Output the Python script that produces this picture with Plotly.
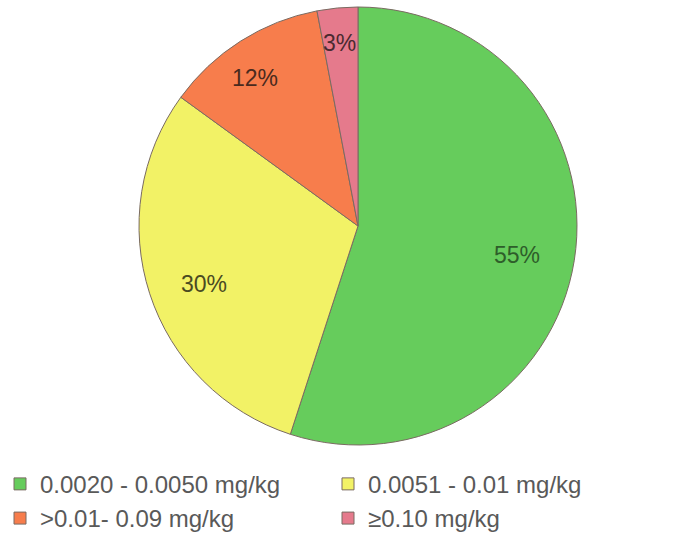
import math
import plotly.graph_objects as go

categories = ["0.0020 - 0.0050 mg/kg", "0.0051 - 0.01 mg/kg", ">0.01- 0.09 mg/kg", "≥0.10 mg/kg"]
values = [55, 30, 12, 3]
colors = ["#66cc5c", "#f2f266", "#f77d4c", "#e57a8c"]
label_colors = ["#2e5e2a", "#4a4a22", "#4a2a1e", "#4a2a30"]

W, H = 688, 542
cx, cy, r = 358, 226, 219

dom_x = [(cx - r) / W, (cx + r) / W]
dom_y = [1 - (cy + r) / H, 1 - (cy - r) / H]

fig = go.Figure(go.Pie(
    labels=categories,
    values=values,
    sort=False,
    direction="clockwise",
    rotation=0,
    marker=dict(colors=colors, line=dict(color="#7a6b62", width=1)),
    textinfo="none",
    domain=dict(x=dom_x, y=dom_y),
    hoverinfo="label+percent",
))

# percentage labels placed along each slice's mid-angle
total = sum(values)
cum = 0.0
label_r = [0.85, 0.86, 0.88, 0.91]
for v, lc, lr in zip(values, label_colors, label_r):
    mid = (cum + v / 2) / total * 2 * math.pi
    cum += v
    px = cx + lr * r * math.sin(mid)
    py = cy - lr * r * math.cos(mid)
    fig.add_annotation(
        x=px / W, y=1 - py / H, xref="paper", yref="paper",
        text=f"{round(v / total * 100)}%", showarrow=False,
        font=dict(family="Liberation Sans, Arial, sans-serif", size=23, color=lc),
    )

fig.update_layout(
    width=W, height=H,
    margin=dict(l=0, r=0, t=0, b=0),
    paper_bgcolor="white",
    plot_bgcolor="white",
    showlegend=True,
    legend=dict(
        orientation="h",
        x=0.0, xanchor="left",
        y=0.148, yanchor="top",
        font=dict(family="Liberation Sans, Arial, sans-serif", size=24, color="#595959"),
        entrywidth=283, entrywidthmode="pixels",
        itemwidth=30,
        traceorder="normal",
    ),
)

fig.write_html("out.html")
